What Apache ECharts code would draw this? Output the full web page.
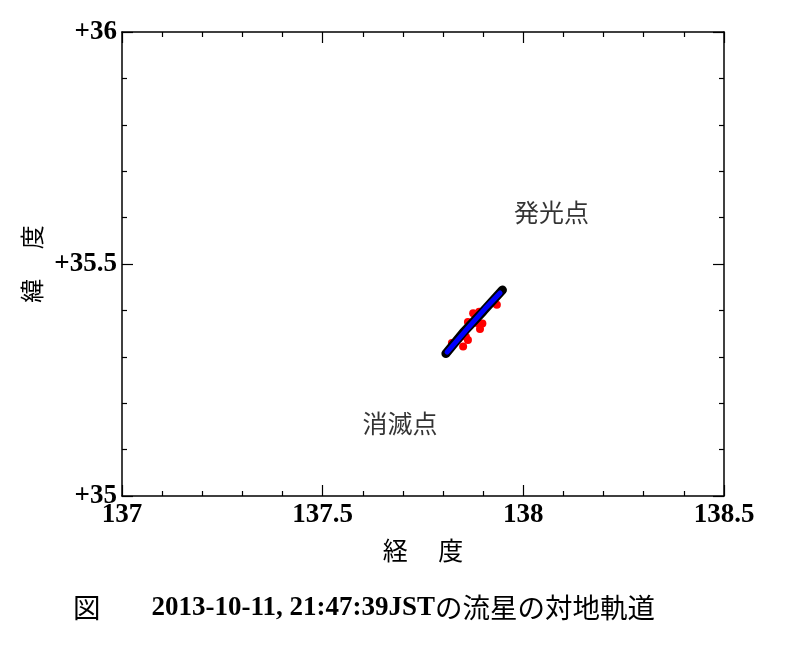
<!DOCTYPE html>
<html>
<head>
<meta charset="utf-8">
<script src="https://cdn.jsdelivr.net/npm/echarts@6/dist/echarts.min.js"></script>
<style>
html,body{margin:0;padding:0;background:#fff;}
#chart{width:800px;height:648px;}
</style>
</head>
<body>
<div id="chart"></div>
<script>
// ---- data ----
const xTicks = [137, 137.5, 138, 138.5];
const xTickLabels = ['137', '137.5', '138', '138.5'];
const yTicks = [35, 35.5, 36];
const yTickLabels = ['+35', '+35.5', '+36'];
// observed trajectory (black)
const observedTrack = [[137.807, 35.307], [137.850, 35.352], [137.900, 35.398], [137.948, 35.444]];
// fitted trajectory (blue)
const fittedTrack = [[137.810, 35.310], [137.860, 35.360], [137.905, 35.404], [137.942, 35.4375]];
// scattered measurement points (red)
const redPoints = [
  [137.822, 35.330], [137.862, 35.336], [137.857, 35.343], [137.892, 35.360],
  [137.885, 35.373], [137.862, 35.375], [137.875, 35.394], [137.890, 35.397],
  [137.934, 35.412], [137.840, 35.340], [137.850, 35.322], [137.898, 35.372]
];
const annotations = [
  {name: '発光点', value: [138.07, 35.612]},
  {name: '消滅点', value: [137.693, 35.157]}
];
const xName = '経　 度';
const yName = '緯　 度';

const serif = '"Liberation Serif", "Times New Roman", serif';
const cjk = '"Noto Sans CJK JP", sans-serif';

function axisCommon(extra) {
  return Object.assign({
    axisLine: {show: true, onZero: false, lineStyle: {color: '#000', width: 1.5}},
    axisTick: {show: true, inside: true, length: 11, lineStyle: {color: '#000', width: 1.2}},
    minorTick: {show: true, splitNumber: 5, length: 5, lineStyle: {color: '#000', width: 1.2}},
    splitLine: {show: false},
    minorSplitLine: {show: false}
  }, extra);
}

const chart = echarts.init(document.getElementById('chart'), null, {renderer: 'canvas'});
chart.setOption({
  backgroundColor: '#fff',
  animation: false,
  grid: {left: 122, right: 76, top: 32, bottom: 152, containLabel: false},
  title: {
    left: 68, top: 589,
    text: '{c|図}{g| }{n|2013-10-11, 21:47:39JST}{c|の流星の対地軌道}',
    textStyle: {
      fontWeight: 'normal',
      rich: {
        c: {fontFamily: cjk, fontSize: 27.5, fontWeight: 'normal', color: '#000'},
        g: {width: 51, fontSize: 20},
        n: {fontFamily: serif, fontWeight: 'bold', fontSize: 27, color: '#000'}
      }
    }
  },
  xAxis: [
    axisCommon({
      type: 'value', position: 'bottom', min: xTicks[0], max: xTicks[xTicks.length - 1], interval: 0.5,
      axisLabel: {
        show: true, margin: 6, showMinLabel: true, showMaxLabel: true,
        color: '#000', fontFamily: serif, fontWeight: 'bold', fontSize: 27,
        formatter: v => { const i = xTicks.findIndex(t => Math.abs(t - v) < 1e-9); return i >= 0 ? xTickLabels[i] : ''; }
      },
      name: xName, nameLocation: 'middle', nameGap: 42,
      nameTextStyle: {fontFamily: cjk, fontSize: 25, color: '#000'}
    }),
    axisCommon({
      type: 'value', position: 'top', min: xTicks[0], max: xTicks[xTicks.length - 1], interval: 0.5,
      axisLabel: {show: false}
    })
  ],
  yAxis: [
    axisCommon({
      type: 'value', position: 'left', min: yTicks[0], max: yTicks[yTicks.length - 1], interval: 0.5,
      axisLabel: {
        show: true, margin: 5, showMinLabel: true, showMaxLabel: true,
        color: '#000', fontFamily: serif, fontWeight: 'bold', fontSize: 27,
        formatter: v => { const i = yTicks.findIndex(t => Math.abs(t - v) < 1e-9); return i >= 0 ? yTickLabels[i] : ''; }
      },
      name: yName, nameLocation: 'middle', nameGap: 78, nameRotate: 90,
      nameTextStyle: {fontFamily: cjk, fontSize: 24, color: '#000'}
    }),
    axisCommon({
      type: 'value', position: 'right', min: yTicks[0], max: yTicks[yTicks.length - 1], interval: 0.5,
      axisLabel: {show: false}
    })
  ],
  series: [
    {
      type: 'scatter', xAxisIndex: 0, yAxisIndex: 0, data: redPoints,
      symbol: 'circle', symbolSize: 8, itemStyle: {color: '#ff0000', opacity: 1}, z: 2
    },
    {
      type: 'line', xAxisIndex: 0, yAxisIndex: 0, data: observedTrack,
      showSymbol: false, lineStyle: {color: '#000', width: 9, cap: 'round'}, z: 3
    },
    {
      type: 'line', xAxisIndex: 0, yAxisIndex: 0, data: fittedTrack,
      showSymbol: false, lineStyle: {color: '#0000ff', width: 5, cap: 'round'}, z: 4
    },
    {
      type: 'scatter', xAxisIndex: 0, yAxisIndex: 0, data: annotations,
      symbolSize: 0, z: 5,
      label: {show: true, position: 'inside', formatter: p => p.name,
        fontFamily: cjk, fontSize: 25, color: '#000', textBorderWidth: 0}
    }
  ]
});
</script>
</body>
</html>
